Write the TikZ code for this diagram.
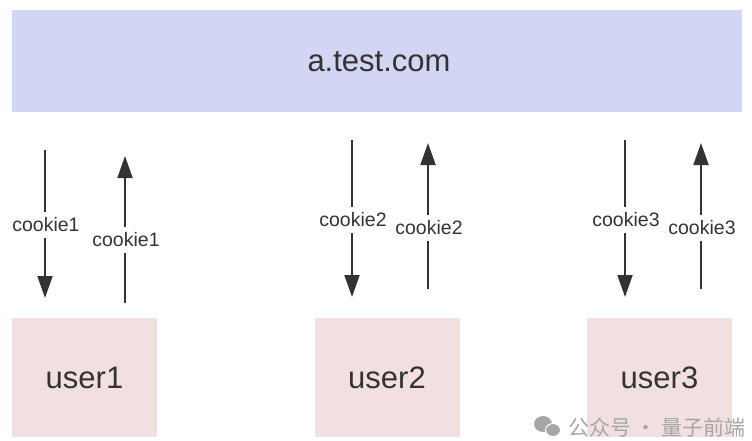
\documentclass[tikz,border=0pt]{standalone}
\usepackage{fontspec}
\setmainfont{Liberation Sans}
\newfontfamily\cjk{Noto Sans CJK SC}
\usetikzlibrary{arrows.meta}
\definecolor{srvfill}{HTML}{D3D5F4}
\definecolor{usrfill}{HTML}{F2DFDF}
\definecolor{ink}{HTML}{333333}
\definecolor{wm}{HTML}{A6A6A6}
\begin{document}
\begin{tikzpicture}[x=1pt,y=-1pt,
  srv/.style={fill=srvfill,draw=none,inner sep=0pt,text=ink,font=\fontsize{31}{36}\selectfont},
  usr/.style={fill=usrfill,draw=none,inner sep=0pt,text=ink,minimum width=145pt,minimum height=119pt,font=\fontsize{31}{36}\selectfont},
  flow/.style={draw=ink,line width=1.9pt,-{Triangle[length=22pt,width=15pt]}},
  lbl/.style={fill=white,text=ink,inner xsep=1pt,inner ysep=6pt,font=\fontsize{19.5}{22}\selectfont}]
\useasboundingbox (0,0) rectangle (752,440);
\node[srv,minimum width=730pt,minimum height=102pt] (server) at (377,61) {};
\node[text=ink,font=\fontsize{31}{36}\selectfont] (host) at (379,62) {a.test.com};
\node[usr] (u1) at (84.5,377.5) {user1};
\node[usr] (u2) at (387,377.5) {user2};
\node[usr] (u3) at (659.5,377.5) {user3};
% user1
\coordinate (d1s) at (45,150); \coordinate (d1e) at (45,298);
\coordinate (p1s) at (125,303); \coordinate (p1e) at (125,156);
\draw[flow] (d1s) -- (d1e);
\draw[flow] (p1s) -- (p1e);
\node[lbl] (l1a) at (46,225) {cookie1};
\node[lbl] (l1b) at (126,240) {cookie1};
% user2
\coordinate (d2s) at (352,140); \coordinate (d2e) at (352,297);
\coordinate (p2s) at (428,289); \coordinate (p2e) at (428,143);
\draw[flow] (d2s) -- (d2e);
\draw[flow] (p2s) -- (p2e);
\node[lbl] (l2a) at (353,220) {cookie2};
\node[lbl] (l2b) at (429,228) {cookie2};
% user3
\coordinate (d3s) at (625,140); \coordinate (d3e) at (625,297);
\coordinate (p3s) at (701,289); \coordinate (p3e) at (701,143);
\draw[flow] (d3s) -- (d3e);
\draw[flow] (p3s) -- (p3e);
\node[lbl] (l3a) at (626,220) {cookie3};
\node[lbl] (l3b) at (702,228) {cookie3};
% watermark
\fill[wm] (543,424) ellipse (9pt and 8pt);
\fill[wm,draw=white,line width=1pt] (553,430) ellipse (7.5pt and 6.5pt);
\node[anchor=west,text=wm,inner sep=0pt,font=\cjk\fontsize{21}{24}\selectfont] (wmark) at (568,427) {公众号 · 量子前端};
\end{tikzpicture}
\end{document}
